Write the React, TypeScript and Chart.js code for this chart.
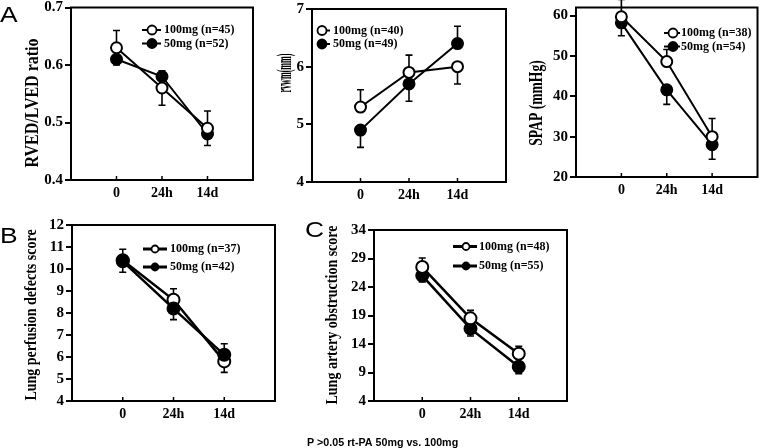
import React, { useEffect, useRef } from 'react';
import { Chart, registerables } from 'chart.js';

Chart.register(...registerables);

const W = 765;
const H = 448;

// ---------- data ----------
const xLabels = ['0', '24h', '14d'];

// A1: RVED/LVED ratio
const a1Ticks = [0.4, 0.5, 0.6, 0.7];
const a1Mg100 = [0.63, 0.56, 0.49];
const a1Mg100Sd = [0.03, 0.03, 0.03];
const a1Mg50 = [0.61, 0.58, 0.48];
const a1Mg50Sd = [0.01, 0.01, 0.02];
const a1Legend = ['100mg (n=45)', '50mg (n=52)'];

// A2: rvwm(mm)
const a2Ticks = [4, 5, 6, 7];
const a2Mg100 = [5.3, 5.9, 6.0];
const a2Mg100Sd = [0.3, 0.3, 0.3];
const a2Mg50 = [4.9, 5.7, 6.4];
const a2Mg50Sd = [0.3, 0.3, 0.3];
const a2Legend = ['100mg (n=40)', '50mg (n=49)'];

// A3: SPAP (mmHg)
const a3Ticks = [20, 30, 40, 50, 60];
const a3Mg100 = [59.7, 48.6, 30.0];
const a3Mg100Sd = [4.3, 3.0, 4.5];
const a3Mg50 = [58.2, 41.6, 28.0];
const a3Mg50Sd = [3.2, 3.6, 3.6];
const a3Legend = ['100mg (n=38)', '50mg (n=54)'];

// B: Lung perfusion defects score
const bTicks = [4, 5, 6, 7, 8, 9, 10, 11, 12];
const bMg100 = [10.4, 8.6, 5.8];
const bMg100Sd = [0.5, 0.5, 0.5];
const bMg50 = [10.35, 8.2, 6.1];
const bMg50Sd = [0.5, 0.5, 0.5];
const bLegend = ['100mg (n=37)', '50mg (n=42)'];

// C: Lung artery obstruction score
const cTicks = [4, 9, 14, 19, 24, 29, 34];
const cMg100 = [27.5, 18.5, 12.3];
const cMg100Sd = [1.6, 1.4, 1.3];
const cMg50 = [26.0, 16.7, 10.0];
const cMg50Sd = [1.1, 1.3, 1.2];
const cLegend = ['100mg (n=48)', '50mg (n=55)'];

const footnote = 'P >0.05 rt-PA 50mg vs. 100mg';

// ---------- panel layout / style ----------
type Panel = {
  id: string;
  box: { l: number; t: number; r: number; b: number };
  yMin: number;
  yMax: number;
  yTicks: number[];
  yDecimals: number;
  v100: number[];
  sd100: number[];
  v50: number[];
  sd50: number[];
  legend: string[];
  title: string;
  titlePos: { x: number; y: number; size: number; sx: number };
  letter?: { s: string; x: number; y: number };
  leg: { x0: number; x1: number; cx: number; tx: number; y0: number; y1: number; r: number; lw: number };
  lineWidth: number;
  pointRadius: number;
  filledOnTop: boolean;
  footnote?: boolean;
};

const panels: Panel[] = [
  {
    id: 'a1', box: { l: 71, t: 6, r: 253, b: 180 }, yMin: 0.4, yMax: 0.7, yTicks: a1Ticks, yDecimals: 1,
    v100: a1Mg100, sd100: a1Mg100Sd, v50: a1Mg50, sd50: a1Mg50Sd, legend: a1Legend,
    title: 'RVED/LVED ratio', titlePos: { x: 33, y: 103, size: 16, sx: 1 },
    letter: { s: 'A', x: 0, y: 22 },
    leg: { x0: 142, x1: 161, cx: 152, tx: 164, y0: 30, y1: 43.5, r: 4.5, lw: 2 },
    lineWidth: 2, pointRadius: 5.5, filledOnTop: false,
  },
  {
    id: 'a2', box: { l: 312, t: 9, r: 506, b: 182 }, yMin: 4, yMax: 7, yTicks: a2Ticks, yDecimals: 0,
    v100: a2Mg100, sd100: a2Mg100Sd, v50: a2Mg50, sd50: a2Mg50Sd, legend: a2Legend,
    title: 'rvwm(mm)', titlePos: { x: 285, y: 73, size: 18, sx: 0.45 },
    leg: { x0: 317, x1: 330, cx: 322, tx: 333, y0: 30.5, y1: 44, r: 4.5, lw: 2 },
    lineWidth: 2, pointRadius: 5.5, filledOnTop: false,
  },
  {
    id: 'a3', box: { l: 576, t: 7, r: 763, b: 177 }, yMin: 20, yMax: 62, yTicks: a3Ticks, yDecimals: 0,
    v100: a3Mg100, sd100: a3Mg100Sd, v50: a3Mg50, sd50: a3Mg50Sd, legend: a3Legend,
    title: 'SPAP (mmHg)', titlePos: { x: 537, y: 103, size: 16, sx: 0.85 },
    leg: { x0: 664, x1: 680, cx: 673, tx: 681, y0: 33, y1: 46.5, r: 4.5, lw: 2 },
    lineWidth: 2, pointRadius: 5.5, filledOnTop: false,
  },
  {
    id: 'b', box: { l: 72, t: 225, r: 275, b: 401 }, yMin: 4, yMax: 12, yTicks: bTicks, yDecimals: 0,
    v100: bMg100, sd100: bMg100Sd, v50: bMg50, sd50: bMg50Sd, legend: bLegend,
    title: 'Lung perfusion defects score', titlePos: { x: 32, y: 315, size: 14, sx: 1 },
    letter: { s: 'B', x: 0, y: 243 },
    leg: { x0: 143, x1: 167, cx: 155, tx: 170, y0: 249, y1: 267, r: 3.5, lw: 3 },
    lineWidth: 2.5, pointRadius: 6, filledOnTop: true,
  },
  {
    id: 'c', box: { l: 374, t: 230, r: 567, b: 401 }, yMin: 4, yMax: 34, yTicks: cTicks, yDecimals: 0,
    v100: cMg100, sd100: cMg100Sd, v50: cMg50, sd50: cMg50Sd, legend: cLegend,
    title: 'Lung artery obstruction score', titlePos: { x: 333, y: 315, size: 14, sx: 1 },
    letter: { s: 'C', x: 305, y: 237 },
    leg: { x0: 453, x1: 477, cx: 466, tx: 479, y0: 246.5, y1: 266, r: 3.5, lw: 3 },
    lineWidth: 2.5, pointRadius: 6, filledOnTop: false, footnote: true,
  },
];

const SERIF = "'Liberation Serif', 'Times New Roman', serif";
const SANS = "'Liberation Sans', Arial, sans-serif";

function drawText(
  ctx: CanvasRenderingContext2D, s: string, x: number, y: number, font: string,
  o: { rot?: number; align?: CanvasTextAlign; baseline?: CanvasTextBaseline; sx?: number; sy?: number } = {}
) {
  ctx.save();
  ctx.translate(x, y);
  if (o.rot) ctx.rotate(o.rot);
  ctx.scale(o.sx ?? 1, o.sy ?? 1);
  ctx.font = font;
  ctx.fillStyle = '#000';
  ctx.textAlign = o.align || 'left';
  ctx.textBaseline = o.baseline || 'alphabetic';
  ctx.fillText(s, 0, 0);
  ctx.restore();
}

function makeConfig(p: Panel): any {
  const mk = (vals: number[], filled: boolean, label: string) => ({
    label,
    data: vals.map((v, i) => ({ x: i, y: v })),
    borderColor: '#000',
    borderWidth: p.lineWidth,
    pointRadius: p.pointRadius,
    pointHoverRadius: p.pointRadius,
    pointBackgroundColor: filled ? '#000' : '#fff',
    pointBorderColor: '#000',
    pointBorderWidth: 2,
    tension: 0,
    fill: false,
  });
  const open = mk(p.v100, false, p.legend[0]);
  const solid = mk(p.v50, true, p.legend[1]);
  // dataset index 0 is painted last (on top)
  const datasets = p.filledOnTop ? [solid, open] : [open, solid];

  const errorBars = {
    id: 'errorBars_' + p.id,
    beforeDatasetsDraw(chart: any) {
      const ctx = chart.ctx as CanvasRenderingContext2D;
      const xs = chart.scales.x;
      const ys = chart.scales.y;
      ctx.save();
      ctx.strokeStyle = '#000';
      ctx.lineWidth = 1.6;
      const series = [
        { v: p.v100, sd: p.sd100, other: p.v50 },
        { v: p.v50, sd: p.sd50, other: p.v100 },
      ];
      series.forEach((s) => {
        s.v.forEach((v, i) => {
          const dir = v >= s.other[i] ? 1 : -1;
          const px = xs.getPixelForValue(i);
          const y0 = ys.getPixelForValue(v);
          const y1 = ys.getPixelForValue(v + dir * s.sd[i]);
          ctx.beginPath();
          ctx.moveTo(px, y0);
          ctx.lineTo(px, y1);
          ctx.moveTo(px - 3.5, y1);
          ctx.lineTo(px + 3.5, y1);
          ctx.stroke();
        });
      });
      ctx.restore();
    },
  };

  const decor = {
    id: 'decor_' + p.id,
    afterDraw(chart: any) {
      const ctx = chart.ctx as CanvasRenderingContext2D;
      const a = chart.chartArea;
      const xs = chart.scales.x;
      ctx.save();
      ctx.strokeStyle = '#000';
      ctx.lineWidth = 2;
      ctx.strokeRect(a.left, a.top, a.right - a.left, a.bottom - a.top);
      // inward x ticks
      ctx.lineWidth = 1.5;
      xLabels.forEach((_, i) => {
        const px = xs.getPixelForValue(i);
        ctx.beginPath();
        ctx.moveTo(px, a.bottom);
        ctx.lineTo(px, a.bottom - 4);
        ctx.stroke();
      });
      // legend
      const L = p.leg;
      [0, 1].forEach((k) => {
        const y = k === 0 ? L.y0 : L.y1;
        ctx.lineWidth = L.lw;
        ctx.beginPath();
        ctx.moveTo(L.x0, y);
        ctx.lineTo(L.x1, y);
        ctx.stroke();
        ctx.beginPath();
        ctx.arc(L.cx, y, L.r, 0, Math.PI * 2);
        ctx.fillStyle = k === 0 ? '#fff' : '#000';
        ctx.fill();
        ctx.lineWidth = 1.8;
        ctx.stroke();
        drawText(ctx, p.legend[k], L.tx, y, `bold 12px ${SERIF}`, { baseline: 'middle', sy: 1.1 });
      });
      ctx.restore();
      // axis title
      const T = p.titlePos;
      drawText(ctx, p.title, T.x, T.y, `bold ${T.size}px ${SERIF}`, {
        rot: -Math.PI / 2, align: 'center', baseline: 'middle', sx: T.sx, sy: 1.2,
      });
      if (p.letter) {
        drawText(ctx, p.letter.s, p.letter.x, p.letter.y, `22px ${SANS}`, { sx: 1.2 });
      }
      if (p.footnote) {
        drawText(ctx, footnote, 307, 446, `bold 10px ${SANS}`, { sx: 1.07 });
      }
    },
  };

  return {
    type: 'line',
    data: { datasets },
    options: {
      responsive: false,
      animation: false,
      devicePixelRatio: 1,
      events: [],
      layout: { padding: { left: 0, top: p.box.t, right: W - p.box.r, bottom: 0 } },
      plugins: { legend: { display: false }, tooltip: { enabled: false }, title: { display: false } },
      scales: {
        x: {
          type: 'linear',
          min: -1,
          max: 3,
          afterBuildTicks: (s: any) => { s.ticks = xLabels.map((_, i) => ({ value: i })); },
          afterFit: (s: any) => { s.height = H - p.box.b; s.paddingLeft = 0; s.paddingRight = 0; },
          grid: { display: false, drawTicks: false },
          border: { display: false },
          ticks: {
            padding: 5,
            color: '#000',
            maxRotation: 0,
            autoSkip: false,
            font: { family: SERIF, weight: 'bold', size: 14 },
            callback: (v: number) => xLabels[v] ?? '',
          },
        },
        y: {
          type: 'linear',
          min: p.yMin,
          max: p.yMax,
          afterBuildTicks: (s: any) => { s.ticks = p.yTicks.map((v) => ({ value: v })); },
          afterFit: (s: any) => { s.width = p.box.l; s.paddingTop = 0; s.paddingBottom = 0; },
          grid: { display: true, drawOnChartArea: false, drawTicks: true, tickLength: 6, lineWidth: 2, color: '#000' },
          border: { display: false },
          ticks: {
            padding: 2,
            color: '#000',
            autoSkip: false,
            font: { family: SERIF, weight: 'bold', size: 15 },
            callback: (v: number) => v.toFixed(p.yDecimals),
          },
        },
      },
    },
    plugins: [errorBars, decor],
  };
}

function PanelChart({ p }: { p: Panel }) {
  const ref = useRef<HTMLCanvasElement>(null);
  useEffect(() => {
    const chart = new Chart(ref.current as HTMLCanvasElement, makeConfig(p));
    return () => chart.destroy();
  }, [p]);
  return (
    <canvas
      ref={ref}
      width={W}
      height={H}
      style={{ position: 'absolute', left: 0, top: 0, width: W, height: H }}
    />
  );
}

export default function App() {
  return (
    <div style={{ position: 'fixed', left: 0, top: 0, width: W, height: H, background: '#fff', overflow: 'hidden' }}>
      {panels.map((p) => (
        <PanelChart key={p.id} p={p} />
      ))}
    </div>
  );
}
